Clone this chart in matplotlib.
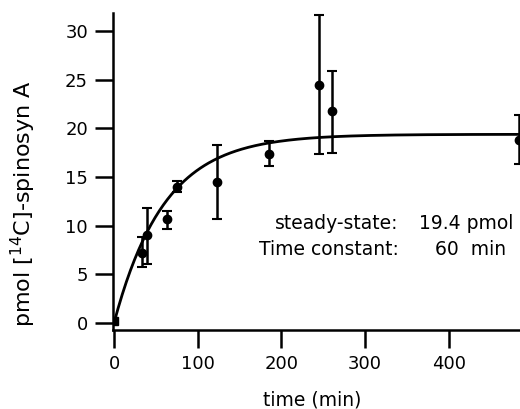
import numpy as np
import matplotlib.pyplot as plt

plt.rcParams['font.family'] = ['DejaVu Sans']

# measured points (time in min, pmol) with asymmetric error bars
time_min = [0, 33, 39, 63, 75, 123, 185, 245, 261, 484]
pmol = [0.2, 7.2, 9.0, 10.7, 14.0, 14.5, 17.4, 24.5, 21.8, 18.8]
err_low = [0.0, 1.4, 2.9, 1.0, 0.5, 3.8, 1.3, 7.1, 4.3, 2.5]
err_high = [0.0, 1.6, 2.8, 0.8, 0.6, 3.8, 1.3, 7.2, 4.1, 2.6]

# fit parameters shown in the annotation
steady_state = 19.4
tau = 60

fig = plt.figure(figsize=(5.2, 4.09), dpi=100)
ax = fig.add_axes([0.2173, 0.193, 0.7827, 0.775])

# fitted single-exponential curve
t_fit = np.linspace(0, 490, 300)
ax.plot(t_fit, steady_state * (1 - np.exp(-t_fit / tau)), color='black', lw=2)

ax.errorbar(time_min[1:], pmol[1:], yerr=[err_low[1:], err_high[1:]],
            fmt='o', color='black', ms=6, elinewidth=1.8, capsize=3.5, capthick=1.5)
ax.plot(time_min[:1], pmol[:1], 's', color='black', ms=6)

ax.set_xlim(-1.2, 485)
ax.set_ylim(-0.72, 31.86)
ax.set_xticks(range(0, 401, 100))
ax.set_yticks(range(0, 31, 5))
for side in ['top', 'right']:
    ax.spines[side].set_visible(False)
for side in ['left', 'bottom']:
    ax.spines[side].set_linewidth(1.8)
ax.tick_params(axis='both', length=13, width=1.8, labelsize=13, pad=5)

ax.set_xlabel('time (min)', fontsize=13.5)
ax.set_ylabel('pmol [$^{14}$C]-spinosyn A', fontsize=16)
ax.yaxis.set_label_coords(-0.185, 0.4)
ax.xaxis.set_label_coords(0.49, -0.19)

ax.text(0.702, 0.335, 'steady-state:', transform=ax.transAxes, ha='right', va='center', fontsize=13.5)
ax.text(0.752, 0.335, f'{steady_state} pmol', transform=ax.transAxes, ha='left', va='center', fontsize=13.5)
ax.text(0.702, 0.255, 'Time constant:', transform=ax.transAxes, ha='right', va='center', fontsize=13.5)
ax.text(0.79, 0.255, f'{tau}  min', transform=ax.transAxes, ha='left', va='center', fontsize=13.5)

fig.savefig('out.png', dpi=100)
